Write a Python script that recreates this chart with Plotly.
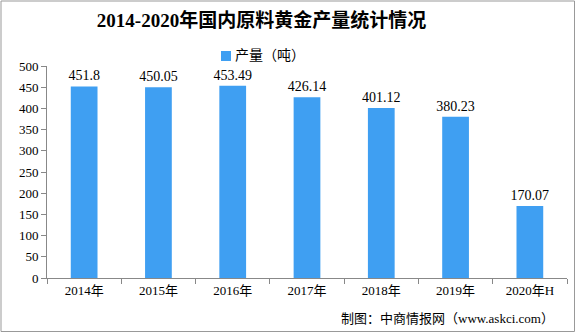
import plotly.graph_objects as go

categories = ["2014年", "2015年", "2016年", "2017年", "2018年", "2019年", "2020年H"]
values = [451.8, 450.05, 453.49, 426.14, 401.12, 380.23, 170.07]
labels = ["451.8", "450.05", "453.49", "426.14", "401.12", "380.23", "170.07"]
y_ticks = [0, 50, 100, 150, 200, 250, 300, 350, 400, 450, 500]
series_name = "产量（吨）"

font_main = "Liberation Serif, Noto Sans CJK SC, serif"
bar_color = "#3F9FF2"

fig = go.Figure()
fig.add_trace(go.Bar(
    x=categories, y=values, name=series_name,
    marker=dict(color=bar_color, line=dict(width=0)),
    text=labels, textposition="outside", cliponaxis=False, constraintext="none",
    textfont=dict(family=font_main, size=14, color="#000"),
))

W, H = 576, 333
l, r, t, b = 47, 9, 66, 55
pw, ph = W - l - r, H - t - b

def px(x):
    return (x - l) / pw

def py(y):
    return (H - b - y) / ph

fig.update_layout(
    width=W, height=H,
    margin=dict(l=l, r=r, t=t, b=b),
    paper_bgcolor="white", plot_bgcolor="white",
    bargap=0.64,
    font=dict(family=font_main, size=13, color="#000"),
    title=dict(text="<b>2014-2020年国内原料黄金产量统计情况</b>",
               x=px(261.5), xref="paper", xanchor="center",
               y=1 - 20 / H, yanchor="middle",
               font=dict(family=font_main, size=19, color="#000")),
    showlegend=False,
    xaxis=dict(type="category", showgrid=False, showline=True, linecolor="#888",
               linewidth=1, ticks="outside", tickson="boundaries", ticklen=5,
               tickcolor="#888", tickfont=dict(family=font_main, size=13)),
    yaxis=dict(range=[0, 500], tickvals=y_ticks, showgrid=False, showline=True,
               linecolor="#888", linewidth=1, ticks="outside", ticklen=5,
               tickcolor="#888", zeroline=False,
               tickfont=dict(family=font_main, size=13)),
    shapes=[dict(type="rect", xref="paper", yref="paper",
                 x0=px(1), x1=px(574.5), y0=py(331.5), y1=py(1),
                 line=dict(color="#999", width=1), fillcolor="rgba(0,0,0,0)",
                 layer="below"),
            dict(type="rect", xref="paper", yref="paper",
                 x0=px(221), x1=px(231), y0=py(61), y1=py(51),
                 line=dict(width=0), fillcolor=bar_color)],
    annotations=[dict(text="制图：中商情报网（www.askci.com）", xref="paper", yref="paper",
                      x=px(556), y=py(318), xanchor="right", yanchor="middle",
                      showarrow=False, font=dict(family=font_main, size=13, color="#000")),
                 dict(text=series_name, xref="paper", yref="paper",
                      x=px(233), y=py(56), xanchor="left", yanchor="middle",
                      showarrow=False, font=dict(family=font_main, size=14, color="#000"))],
)

fig.write_html("out.html")
